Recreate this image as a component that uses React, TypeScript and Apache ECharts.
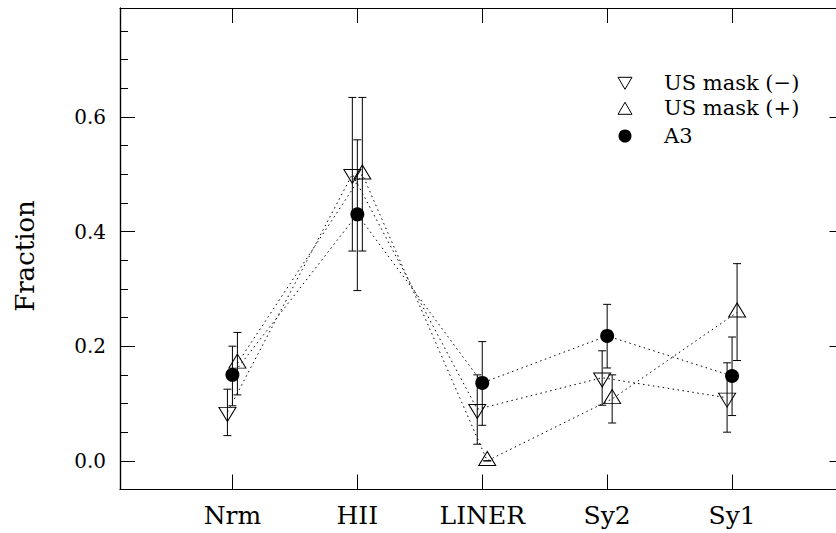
import React, { useEffect, useRef } from "react";
import * as echarts from "echarts";

const categories = ["Nrm", "HII", "LINER", "Sy2", "Sy1"];
const categoryPositions = [1, 2, 3, 4, 5];
const yMajorTicks = [0, 0.2, 0.4, 0.6];
const yMinorTicks = [0.05, 0.1, 0.15, 0.25, 0.3, 0.35, 0.45, 0.5, 0.55, 0.65, 0.7, 0.75];

const maskMinusValues = [0.085, 0.5, 0.09, 0.145, 0.11];
const maskMinusLow = [0.044, 0.366, 0.029, 0.097, 0.05];
const maskMinusHigh = [0.125, 0.634, 0.15, 0.192, 0.171];

const maskPlusValues = [0.17, 0.5, 0.0, 0.108, 0.259];
const maskPlusLow = [0.115, 0.366, 0.0, 0.066, 0.175];
const maskPlusHigh = [0.224, 0.634, 0.0, 0.15, 0.344];

const a3Values = [0.15, 0.43, 0.136, 0.218, 0.148];
const a3Low = [0.096, 0.297, 0.062, 0.162, 0.079];
const a3High = [0.2, 0.56, 0.208, 0.273, 0.216];

const legendLabels = ["US mask (−)", "US mask (+)", "A3"];

const SERIF = "DejaVu Serif";
const DOWN_TRI = "path://M0,0 L17,0 L8.5,14 Z";
const UP_TRI = "path://M8.5,0 L17,14 L0,14 Z";

const groups = [
  { name: legendLabels[0], values: maskMinusValues, low: maskMinusLow, high: maskMinusHigh, dx: -0.04, symbol: DOWN_TRI, size: [17, 14], offset: [0, 2.3], filled: false },
  { name: legendLabels[1], values: maskPlusValues, low: maskPlusLow, high: maskPlusHigh, dx: 0.04, symbol: UP_TRI, size: [17, 14], offset: [0, -2.3], filled: false },
  { name: legendLabels[2], values: a3Values, low: a3Low, high: a3High, dx: 0, symbol: "circle", size: 14, offset: [0, 0], filled: true },
];

export default function App() {
  const ref = useRef<HTMLDivElement>(null);
  useEffect(() => {
    if (!ref.current) return;
    const chart = echarts.init(ref.current, null, { renderer: "svg" });
    const black = "#000";
    const series: any[] = [];
    groups.forEach((g) => {
      const pts = g.values.map((v, i) => [categoryPositions[i] + g.dx, v]);
      series.push({
        type: "line",
        name: g.name + " line",
        data: pts,
        showSymbol: false,
        symbol: "none",
        silent: true,
        lineStyle: { color: black, width: 1, type: [1.5, 3.5] },
        z: 2,
      });
      series.push({
        type: "custom",
        name: g.name + " err",
        silent: true,
        data: g.values.map((_, i) => [categoryPositions[i] + g.dx, g.low[i], g.high[i]]),
        renderItem: (params: any, api: any) => {
          const x = api.value(0);
          const lo = api.coord([x, api.value(1)]);
          const hi = api.coord([x, api.value(2)]);
          const w = 4;
          const style = { stroke: black, lineWidth: 1 };
          return {
            type: "group",
            children: [
              { type: "line", shape: { x1: lo[0], y1: lo[1], x2: hi[0], y2: hi[1] }, style },
              { type: "line", shape: { x1: lo[0] - w, y1: lo[1], x2: lo[0] + w, y2: lo[1] }, style },
              { type: "line", shape: { x1: hi[0] - w, y1: hi[1], x2: hi[0] + w, y2: hi[1] }, style },
            ],
          };
        },
        z: 3,
      });
      series.push({
        type: "scatter",
        name: g.name,
        data: pts,
        symbol: g.symbol,
        symbolSize: g.size,
        symbolOffset: g.offset,
        itemStyle: g.filled
          ? { color: black, borderWidth: 0, opacity: 1 }
          : { color: "rgba(0,0,0,0)", borderColor: black, borderWidth: 1, opacity: 1 },
        z: 4,
      });
    });

    const axisLine = { show: true, onZero: false, lineStyle: { color: black, width: 1.2 } };
    const xCommon = {
      type: "value",
      min: 0.1,
      max: 5.9,
      splitLine: { show: false },
      axisLine,
      axisTick: { show: true, inside: true, length: 15, customValues: categoryPositions, lineStyle: { color: black, width: 1 } },
    };
    const yCommon = { type: "value", min: -0.05, max: 0.79, splitLine: { show: false }, axisLine };

    // legend drawn as graphic elements
    const lx = 625;
    const rows = [83.3, 108.3, 136];
    const tx = 664;
    const legendGraphics: any[] = [
      {
        type: "polygon",
        shape: { points: [[lx - 7, rows[0] - 6], [lx + 7, rows[0] - 6], [lx, rows[0] + 6]] },
        style: { fill: "none", stroke: black, lineWidth: 1 },
      },
      {
        type: "polygon",
        shape: { points: [[lx, rows[1] - 6], [lx + 7, rows[1] + 6], [lx - 7, rows[1] + 6]] },
        style: { fill: "none", stroke: black, lineWidth: 1 },
      },
      { type: "circle", shape: { cx: lx, cy: rows[2], r: 6.5 }, style: { fill: black } },
      ...legendLabels.map((t, i) => ({
        type: "text",
        x: tx,
        y: rows[i],
        style: { text: t, fontFamily: SERIF, fontSize: 21, fill: black, textAlign: "left", textVerticalAlign: "middle" },
      })),
    ];

    chart.setOption({
      animation: false,
      backgroundColor: "#fff",
      grid: { left: 120, top: 8, right: -8.5, bottom: 43.5, containLabel: false, outerBoundsMode: "none" },
      xAxis: [
        {
          ...xCommon,
          position: "bottom",
          axisLabel: {
            show: true,
            customValues: categoryPositions,
            formatter: (v: number) => categories[Math.round(v) - 1] ?? "",
            fontFamily: SERIF,
            fontSize: 25,
            color: black,
            margin: 13,
          },
        },
        { ...xCommon, position: "top", axisLabel: { show: false } },
      ],
      yAxis: [
        {
          ...yCommon,
          position: "left",
          axisTick: { show: true, inside: true, length: 15, customValues: yMajorTicks, lineStyle: { color: black, width: 1 } },
          axisLabel: {
            show: true,
            customValues: yMajorTicks,
            formatter: (v: number) => v.toFixed(1),
            fontFamily: SERIF,
            fontSize: 20,
            color: black,
            margin: 14,
          },
        },
        {
          ...yCommon,
          position: "left",
          offset: 0,
          axisTick: { show: true, inside: true, length: 8, customValues: yMinorTicks, lineStyle: { color: black, width: 1 } },
          axisLabel: { show: false },
        },
        {
          ...yCommon,
          position: "right",
          offset: 0,
          axisTick: { show: true, inside: true, length: 15, customValues: yMajorTicks, lineStyle: { color: black, width: 1 } },
          axisLabel: { show: false },
        },
        {
          ...yCommon,
          position: "right",
          offset: 0,
          axisTick: { show: true, inside: true, length: 8, customValues: yMinorTicks, lineStyle: { color: black, width: 1 } },
          axisLabel: { show: false },
        },
      ],
      graphic: [
        {
          type: "text",
          x: 25,
          y: 256,
          rotation: Math.PI / 2,
          style: {
            text: "Fraction",
            fontFamily: SERIF,
            fontSize: 26,
            fill: black,
            textAlign: "center",
            textVerticalAlign: "middle",
          },
        },
        ...legendGraphics,
      ],
      series,
    });
    return () => chart.dispose();
  }, []);
  return <div ref={ref} style={{ position: "fixed", left: 0, top: 0, width: 836, height: 533 }} />;
}
